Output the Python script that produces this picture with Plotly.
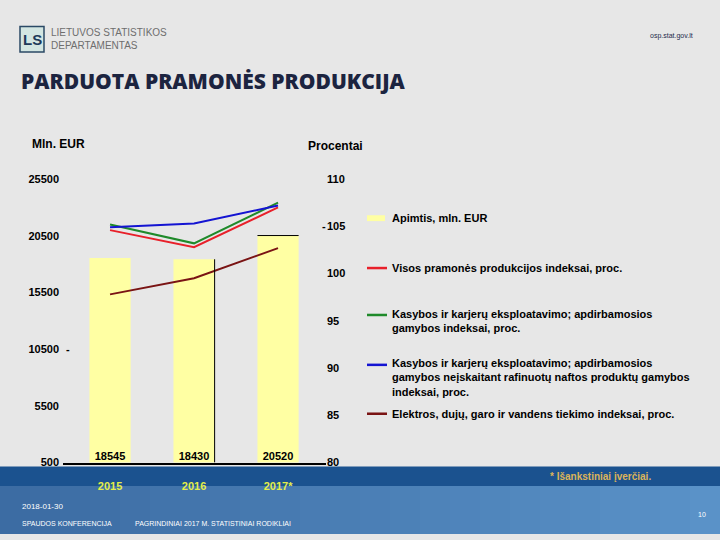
import plotly.graph_objects as go

# ---------------- data ----------------
years = ["2015", "2016", "2017*"]
volume = [18545, 18430, 20520]                 # Apimtis, mln. EUR
total_idx = [104.6, 102.8, 107.0]              # Visos pramonės produkcijos indeksai
mining_manuf_idx = [105.2, 103.2, 107.5]       # Kasybos ... apdirbamosios gamybos
excl_oil_idx = [104.9, 105.3, 107.2]           # ... neįskaitant rafinuotų naftos produktų
energy_idx = [97.8, 99.5, 102.7]               # Elektros, dujų, garo ir vandens tiekimo
left_ticks = [500, 5500, 10500, 15500, 20500, 25500]
right_ticks = [80, 85, 90, 95, 100, 105, 110]
legend_labels = [
    "Apimtis, mln. EUR",
    "Visos pramonės produkcijos indeksai, proc.",
    "Kasybos ir karjerų eksploatavimo; apdirbamosios<br>gamybos indeksai, proc.",
    "Kasybos ir karjerų eksploatavimo; apdirbamosios<br>gamybos neįskaitant rafinuotų naftos produktų gamybos<br>indeksai, proc.",
    "Elektros, dujų, garo ir vandens tiekimo indeksai, proc.",
]

W, H = 720, 540
def px(x): return x / W
def py(y): return 1 - y / H

BAR_COLOR = "#ffffa3"
RED = "#e8202a"
GREEN = "#1f8a2a"
BLUE = "#1414d2"
DARKRED = "#7a1414"
line_colors = [RED, GREEN, BLUE, DARKRED]
series = [total_idx, mining_manuf_idx, excl_oil_idx, energy_idx]

idx = list(range(len(years)))
bar_w = 0.49
FONT = "Liberation Sans, Arial, sans-serif"

fig = go.Figure()
fig.add_trace(go.Bar(x=idx, y=volume, width=bar_w, marker=dict(color=BAR_COLOR, line=dict(width=0)),
                     hoverinfo="skip", showlegend=False))
fig.add_trace(go.Scatter(x=idx, y=[left_ticks[0]] * len(idx), mode="text",
                         text=[str(v) for v in volume], textposition="top center",
                         textfont=dict(family=FONT, size=11, color="#000000", weight="bold"),
                         showlegend=False, hoverinfo="skip"))
for s, c in zip(series, line_colors):
    fig.add_trace(go.Scatter(x=idx, y=s, yaxis="y2", mode="lines",
                             line=dict(color=c, width=2), showlegend=False, hoverinfo="skip"))

shapes = []
# background bands
n = 24
for i in range(n):
    t = i / (n - 1)
    r = int(0x3c + t * (0x5a - 0x3c)); g = int(0x6c + t * (0x92 - 0x6c)); b = int(0xa3 + t * (0xc8 - 0xa3))
    shapes.append(dict(type="rect", xref="paper", yref="paper", x0=i / n, x1=(i + 1) / n + 0.002,
                       y0=py(540), y1=py(490), fillcolor=f"rgb({r},{g},{b})", line=dict(width=0), layer="below"))
shapes.append(dict(type="rect", xref="paper", yref="paper", x0=0, x1=1, y0=py(491), y1=py(471),
                   fillcolor="#1b528f", line=dict(width=0), layer="below"))
# logo box
shapes.append(dict(type="rect", xref="paper", yref="paper", x0=px(20), x1=px(44), y0=py(47), y1=py(21),
                   fillcolor="#d3e6e2", line=dict(color="#2b4a66", width=1.5)))
# artefact lines on bars
shapes.append(dict(type="line", xref="x", yref="y", x0=idx[1] + bar_w / 2, x1=idx[1] + bar_w / 2,
                   y0=left_ticks[0], y1=volume[1], line=dict(color="#000000", width=1)))
shapes.append(dict(type="line", xref="x", yref="y", x0=idx[2] - bar_w / 2, x1=idx[2] + bar_w / 2,
                   y0=volume[2], y1=volume[2], line=dict(color="#000000", width=1)))

# legend swatches and text
leg_y = [217, 268, 316, 367, 417]
leg_text_y = [217, 268, 322, 380, 417]
shapes.append(dict(type="rect", xref="paper", yref="paper", x0=px(367), x1=px(385),
                   y0=py(leg_y[0] + 3), y1=py(leg_y[0] - 3), fillcolor=BAR_COLOR, line=dict(width=0)))
for yy, c in zip(leg_y[1:], line_colors):
    shapes.append(dict(type="line", xref="paper", yref="paper", x0=px(367), x1=px(387),
                       y0=py(yy), y1=py(yy), line=dict(color=c, width=2.5)))

ann = []
for yy, t in zip(leg_text_y, legend_labels):
    ann.append(dict(x=px(390), y=py(yy), xref="paper", yref="paper", text=t, showarrow=False,
                    xanchor="left", yanchor="middle", align="left",
                    font=dict(family=FONT, size=11, color="#000000", weight="bold")))
# axis titles
ann.append(dict(x=px(30), y=py(141), xref="paper", yref="paper", text="Mln. EUR", showarrow=False,
                xanchor="left", yanchor="middle", font=dict(family=FONT, size=12, color="#000000", weight="bold")))
ann.append(dict(x=px(306), y=py(143), xref="paper", yref="paper", text="Procentai", showarrow=False,
                xanchor="left", yanchor="middle", font=dict(family=FONT, size=12, color="#000000", weight="bold")))
# tick dashes
ann.append(dict(x=px(64), y=py(351), xref="paper", yref="paper", text="-", showarrow=False,
                xanchor="left", yanchor="middle", font=dict(family=FONT, size=11, color="#000000", weight="bold")))
ann.append(dict(x=px(320), y=py(225), xref="paper", yref="paper", text="-", showarrow=False,
                xanchor="left", yanchor="middle", font=dict(family=FONT, size=11, color="#000000", weight="bold")))
# header
ann.append(dict(x=px(32), y=py(34), xref="paper", yref="paper", text="<b>LS</b>", showarrow=False,
                xanchor="center", yanchor="middle", font=dict(family=FONT, size=15, color="#1d3a5a")))
ann.append(dict(x=px(49), y=py(27), xref="paper", yref="paper", text="LIETUVOS STATISTIKOS", showarrow=False,
                xanchor="left", yanchor="middle", font=dict(family=FONT, size=10, color="#6e6e6e")))
ann.append(dict(x=px(49), y=py(40), xref="paper", yref="paper", text="DEPARTAMENTAS", showarrow=False,
                xanchor="left", yanchor="middle", font=dict(family=FONT, size=10, color="#6e6e6e")))
ann.append(dict(x=px(695), y=py(31), xref="paper", yref="paper", text="osp.stat.gov.lt", showarrow=False,
                xanchor="right", yanchor="middle", font=dict(family=FONT, size=7, color="#1d2a4a")))
ann.append(dict(x=px(19), y=py(77), xref="paper", yref="paper", text="PARDUOTA PRAMONĖS PRODUKCIJA", showarrow=False,
                xanchor="left", yanchor="middle", font=dict(family="Open Sans, sans-serif", size=21, color="#1c2440", weight=800)))
# footnote and footer
ann.append(dict(x=px(548), y=py(481), xref="paper", yref="paper", text="* Išankstiniai įverčiai.", showarrow=False,
                xanchor="left", yanchor="middle", font=dict(family=FONT, size=10, color="#dcb45a", weight="bold")))
ann.append(dict(x=px(20), y=py(512), xref="paper", yref="paper", text="2018-01-30", showarrow=False,
                xanchor="left", yanchor="middle", font=dict(family=FONT, size=8, color="#ffffff")))
ann.append(dict(x=px(20), y=py(529), xref="paper", yref="paper", text="SPAUDOS KONFERENCIJA", showarrow=False,
                xanchor="left", yanchor="middle", font=dict(family=FONT, size=7, color="#ffffff")))
ann.append(dict(x=px(133), y=py(529), xref="paper", yref="paper", text="PAGRINDINIAI 2017 M. STATISTINIAI RODIKLIAI", showarrow=False,
                xanchor="left", yanchor="middle", font=dict(family=FONT, size=7, color="#ffffff")))
ann.append(dict(x=px(708), y=py(520), xref="paper", yref="paper", text="10", showarrow=False,
                xanchor="right", yanchor="middle", font=dict(family=FONT, size=7, color="#ffffff")))

tickfont = dict(family=FONT, size=11, color="#000000", weight="bold")
fig.update_layout(
    width=W, height=H, margin=dict(l=0, r=0, t=0, b=0),
    paper_bgcolor="#e7e7e7", plot_bgcolor="rgba(0,0,0,0)",
    showlegend=False, bargap=0.5,
    xaxis=dict(domain=[px(63), px(326)], range=[-0.56, 2.571], tickvals=idx, ticktext=years,
               showgrid=False, zeroline=False, showline=True, linecolor="#000000", linewidth=1.5,
               ticks="outside", ticklen=12, tickcolor="rgba(0,0,0,0)",
               tickfont=dict(family=FONT, size=11, color="#e4ee4a", weight="bold")),
    yaxis=dict(domain=[py(467), py(177)], range=[left_ticks[0], left_ticks[-1]], tickvals=left_ticks,
               ticktext=[str(v) for v in left_ticks], showgrid=False, zeroline=False, showline=False,
               ticks="", ticklabelstandoff=3, tickfont=tickfont),
    yaxis2=dict(domain=[py(467), py(177)], range=[right_ticks[0], right_ticks[-1]], tickvals=right_ticks,
                overlaying="y", side="right", anchor="x",
                ticktext=[str(v) for v in right_ticks], showgrid=False, zeroline=False, showline=False,
                ticks="", ticklabelstandoff=0, tickfont=tickfont),
    shapes=shapes, annotations=ann,
)

fig.write_html("out.html", config={"displayModeBar": False},
               post_script="document.body.style.margin='0';document.body.style.overflow='hidden';")
